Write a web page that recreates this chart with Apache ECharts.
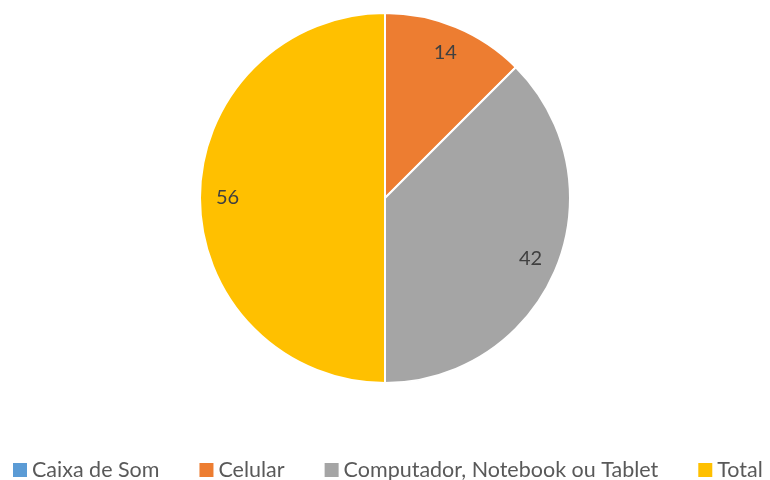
<!DOCTYPE html>
<html>
<head>
<meta charset="utf-8">
<script src="https://cdn.jsdelivr.net/npm/echarts@6/dist/echarts.min.js"></script>
<style>
  html, body { margin: 0; padding: 0; background: #fff; }
  #main { width: 770px; height: 480px; }
</style>
</head>
<body>
<div id="main"></div>
<script>
// dados do gráfico
const categories = ["Caixa de Som", "Celular", "Computador, Notebook ou Tablet", "Total"];
const values = [0, 14, 42, 56];
const colors = ["#5B9BD5", "#ED7D31", "#A5A5A5", "#FFC000"];

const pieData = categories.map((name, i) => ({ name: name, value: values[i] }));

const chart = echarts.init(document.getElementById("main"));
const option = {
  color: colors,
  legend: {
    top: 454,
    left: 8,
    width: 762,
    itemWidth: 14,
    itemHeight: 14,
    itemGap: 40,
    icon: "rect",
    itemStyle: { borderWidth: 0 },
    textStyle: {
      fontFamily: "Lato, sans-serif",
      fontSize: 21.5,
      color: "#595959"
    },
    data: categories
  },
  series: [
    {
      // fatias
      type: "pie",
      center: [385, 198],
      radius: [0, 185],
      startAngle: 90,
      clockwise: true,
      label: { show: false },
      labelLine: { show: false },
      silent: true,
      itemStyle: { borderColor: "#fff", borderWidth: 2 },
      data: pieData
    },
    {
      // rótulos (anel invisível para posicionar os números perto da borda)
      type: "pie",
      center: [385, 198],
      radius: [124, 185],
      startAngle: 90,
      clockwise: true,
      silent: true,
      itemStyle: { color: "transparent", borderWidth: 0 },
      labelLine: { show: false },
      label: {
        show: true,
        position: "inside",
        fontFamily: "Lato, sans-serif",
        fontSize: 20,
        color: "#404040",
        formatter: p => (p.value === 0 ? "" : String(p.value))
      },
      data: pieData
    }
  ]
};
chart.setOption(option);
</script>
</body>
</html>
